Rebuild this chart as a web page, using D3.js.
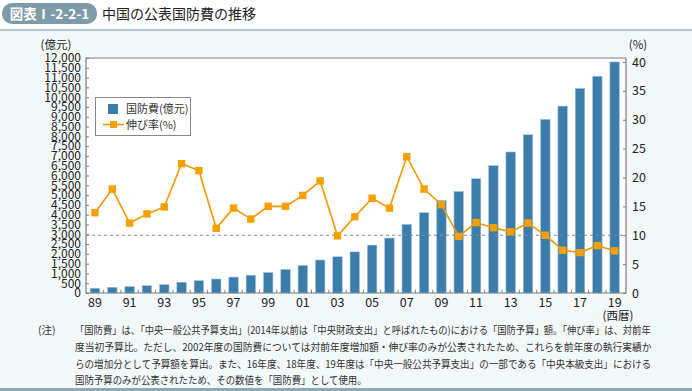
<!DOCTYPE html>
<html><head><meta charset="utf-8">
<script src="https://cdn.jsdelivr.net/npm/d3@7"></script>
<style>
html,body{margin:0;padding:0;background:#fff;}
svg{display:block;font-family:"Noto Sans CJK JP","Noto Sans",sans-serif;}
</style></head>
<body><svg id="chart" width="692" height="391"></svg>
<script>
const years = d3.range(1989, 2020);
const budget = [245, 290, 330, 378, 426, 551, 637, 715, 813, 910, 1047, 1205, 1410, 1684, 1853, 2100, 2447, 2807, 3509, 4099, 4729, 5191, 5836, 6503, 7202, 8082, 8869, 9544, 10444, 11070, 11800];
const growth = [13.9, 18.0, 12.1, 13.7, 14.9, 22.4, 21.2, 11.2, 14.7, 12.8, 15.0, 15.0, 16.9, 19.4, 9.9, 13.2, 16.4, 14.7, 23.6, 18.0, 15.3, 9.8, 12.2, 11.3, 10.6, 12.1, 10.0, 7.4, 7.0, 8.2, 7.3];
const leftTicks = d3.range(0, 12001, 500);
const rightTicks = d3.range(0, 41, 5);
const title = "中国の公表国防費の推移";
const badge = "図表Ⅰ-2-2-1";
const legendLabels = ["国防費(億元)", "伸び率(%)"];
const notes = [
  "「国防費」は、「中央一般公共予算支出」(2014年以前は「中央財政支出」と呼ばれたもの)における「国防予算」額。「伸び率」は、対前年",
  "度当初予算比。ただし、2002年度の国防費については対前年度増加額・伸び率のみが公表されたため、これらを前年度の執行実績か",
  "らの増加分として予算額を算出。また、16年度、18年度、19年度は「中央一般公共予算支出」の一部である「中央本級支出」における",
  "国防予算のみが公表されたため、その数値を「国防費」として使用。"
];

const svg = d3.select("#chart");
const barColor = "#3b7dab", lineColor = "#f39800";
const L = 86, R = 626, T = 58, B = 293;

// background
svg.append("rect").attr("x",0).attr("y",0).attr("width",692).attr("height",391).attr("fill","#fff");
svg.append("rect").attr("x",0).attr("y",31).attr("width",692).attr("height",360).attr("fill","#f3f8f9");
svg.append("rect").attr("x",0).attr("y",29).attr("width",692).attr("height",2).attr("fill","#b3c6cd");
svg.append("rect").attr("x",0).attr("y",388).attr("width",692).attr("height",3).attr("fill","#8eabb5");

// title
svg.append("rect").attr("x",2).attr("y",3).attr("width",95).attr("height",21).attr("rx",10).attr("fill","#7f9ba7");
svg.append("text").attr("x",49.5).attr("y",19).attr("text-anchor","middle").attr("fill","#fff")
  .attr("font-size",13.5).attr("font-weight","bold").text(badge);
svg.append("text").attr("x",102).attr("y",19).attr("fill","#222").attr("font-size",14).text(title);

// scales
const x = d3.scaleBand().domain(years).range([86.3, 623.3]).paddingInner(0.45).paddingOuter(0.225);
const yL = d3.scaleLinear().domain([0, 12000]).range([B, T]);
const yR = d3.scaleLinear().domain([0, 40]).range([B, 62]);

// plot area
svg.append("rect").attr("x",L).attr("y",T).attr("width",R-L).attr("height",B-T).attr("fill","#fff");

// bars
svg.append("g").selectAll("rect").data(years).join("rect")
  .attr("x", d => x(d)).attr("width", x.bandwidth())
  .attr("y", (d,i) => yL(budget[i])).attr("height", (d,i) => B - yL(budget[i]))
  .attr("fill", barColor).attr("stroke","#a9c6dc").attr("stroke-width",0.6);

// dashed reference line
svg.append("line").attr("x1",L).attr("x2",R).attr("y1",yR(10)).attr("y2",yR(10))
  .attr("stroke","#888").attr("stroke-dasharray","3,3").attr("stroke-width",1);

// frame
svg.append("path").attr("d",`M${L},${B}V${T}H${R}V${B}`).attr("fill","none").attr("stroke","#7d7d7d").attr("stroke-width",1.2);

// left axis
const gL = svg.append("g").attr("transform",`translate(${L},0)`)
  .call(d3.axisLeft(yL).tickValues(leftTicks).tickSize(-3).tickPadding(5).tickFormat(d3.format(",")));
gL.select(".domain").remove();
gL.selectAll("line").attr("stroke","#7d7d7d");
gL.selectAll("text").attr("font-size",12).attr("fill","#222").attr("font-family","'Noto Sans CJK JP',sans-serif");

// right axis
const gR = svg.append("g").attr("transform",`translate(${R},0)`)
  .call(d3.axisRight(yR).tickValues(rightTicks).tickSize(-3).tickPadding(6));
gR.select(".domain").remove();
gR.selectAll("line").attr("stroke","#7d7d7d");
gR.selectAll("text").attr("font-size",12.5).attr("fill","#222").attr("font-family","'Noto Sans CJK JP',sans-serif");

// bottom axis
svg.append("line").attr("x1",L).attr("x2",R).attr("y1",B).attr("y2",B).attr("stroke","#7d7d7d").attr("stroke-width",1.2);
const step = x.step();
svg.append("g").selectAll("line").data(years.slice(1)).join("line")
  .attr("x1", d => x(d) - step*x.paddingInner()/2).attr("x2", d => x(d) - step*x.paddingInner()/2)
  .attr("y1", B).attr("y2", B-3).attr("stroke","#7d7d7d");
svg.append("g").selectAll("text").data(years.filter((d,i) => i % 2 === 0)).join("text")
  .attr("x", d => x(d) + x.bandwidth()/2).attr("y", 307).attr("text-anchor","middle")
  .attr("font-size",12.5).attr("fill","#222").text(d => String(d).slice(2));

// axis unit labels
svg.append("text").attr("x",56).attr("y",49).attr("text-anchor","middle").attr("font-size",11.5).attr("fill","#222").text("(億元)");
svg.append("text").attr("x",638).attr("y",49).attr("text-anchor","middle").attr("font-size",11.5).attr("fill","#222").text("(%)");
svg.append("text").attr("x",618).attr("y",320).attr("text-anchor","middle").attr("font-size",11.5).attr("fill","#222").text("(西暦)");

// growth line
const line = d3.line().x((d,i) => x(years[i]) + x.bandwidth()/2).y(d => yR(d));
svg.append("path").datum(growth).attr("d", line).attr("fill","none").attr("stroke",lineColor).attr("stroke-width",1.6);
svg.append("g").selectAll("rect").data(growth).join("rect")
  .attr("x",(d,i) => x(years[i]) + x.bandwidth()/2 - 3.7).attr("y", d => yR(d) - 3.7)
  .attr("width",7.4).attr("height",7.4).attr("fill","#f5a000");

// legend
const lg = svg.append("g");
lg.append("rect").attr("x",95.5).attr("y",97.5).attr("width",95).attr("height",38).attr("fill","#fff").attr("stroke","#888");
lg.append("rect").attr("x",108).attr("y",104).attr("width",10).attr("height",10).attr("fill",barColor);
lg.append("text").attr("x",126).attr("y",113).attr("font-size",11).attr("fill","#333").text(legendLabels[0]);
lg.append("line").attr("x1",103).attr("x2",124).attr("y1",124.5).attr("y2",124.5).attr("stroke",lineColor).attr("stroke-width",1.6);
lg.append("rect").attr("x",110).attr("y",121).attr("width",7).attr("height",7).attr("fill","#f5a000");
lg.append("text").attr("x",126).attr("y",129).attr("font-size",11).attr("fill","#333").text(legendLabels[1]);

// notes
svg.append("text").attr("x",38).attr("y",334).attr("font-size",10.5).attr("fill","#333").text("(注)");
notes.forEach((t,i) => {
  const tx = svg.append("text").attr("x",0).attr("y",0).attr("font-size",10.5).attr("fill","#333").text(t);
  const len = tx.node().getComputedTextLength();
  const target = i < 3 ? 577 : Math.min(len, 292);
  tx.attr("transform",`translate(75,${334 + i*16.8}) scale(${target/len},1)`);
});
</script></body></html>
